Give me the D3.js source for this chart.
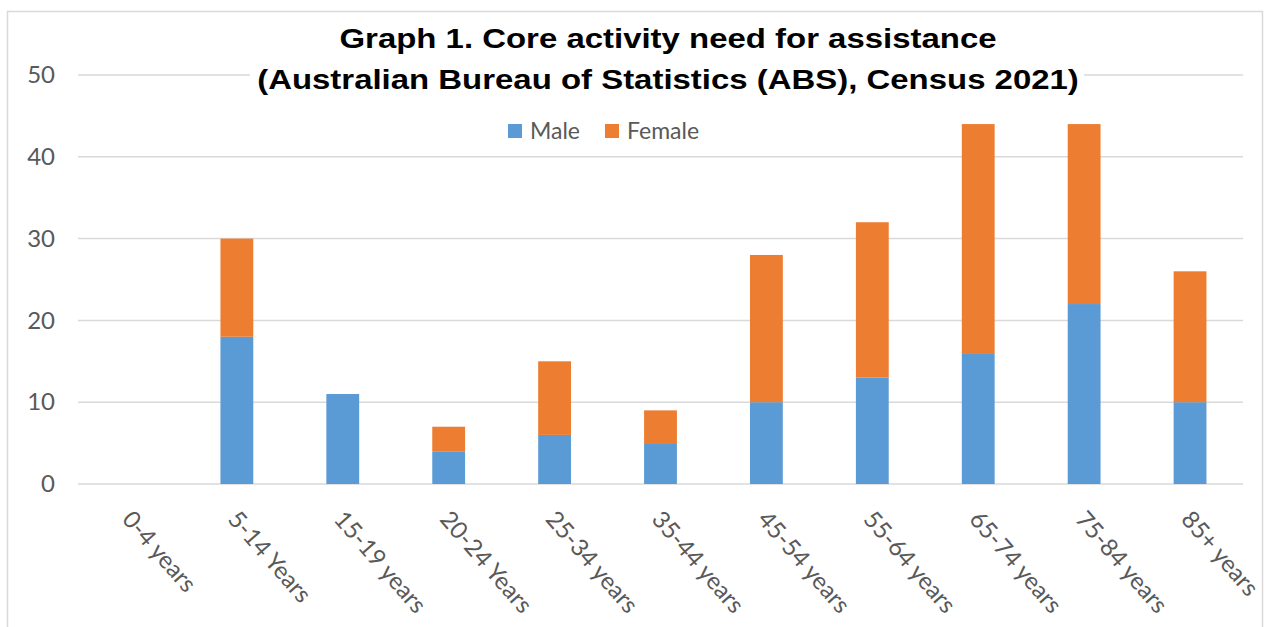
<!DOCTYPE html>
<html><head><meta charset="utf-8">
<script src="https://cdn.jsdelivr.net/npm/d3@7"></script>
<style>body{margin:0;background:#fff}svg{display:block}</style>
</head><body>
<svg id="c" width="1268" height="627"></svg>
<script>
const categories = ["0-4 years","5-14 Years","15-19 years","20-24 Years","25-34 years","35-44 years","45-54 years","55-64 years","65-74 years","75-84 years","85+ years"];
const male   = [0,18,11,4,6,5,10,13,16,22,10];
const female = [0,12,0,3,9,4,18,19,28,22,16];
const seriesNames = ["Male","Female"];
const colors = ["#5b9bd5","#ed7d31"];
const yTicks = [0,10,20,30,40,50];
const titleLines = ["Graph 1. Core activity need for assistance","(Australian Bureau of Statistics (ABS), Census 2021)"];

const svg = d3.select("#c");
const m={left:78,right:1243,top:75,bottom:484};

svg.append("rect").attr("x",7.5).attr("y",11.5).attr("width",1255).attr("height",640)
  .attr("fill","#fff").attr("stroke","#d9d9d9").attr("stroke-width",1.5);

const x = d3.scaleBand().domain(categories).range([m.left,m.right]).paddingInner(0.69).paddingOuter(0.345);
const y = d3.scaleLinear().domain([0,50]).range([m.bottom,m.top]);

const font="Lato, 'Open Sans', sans-serif";

// gridlines
svg.append("g").selectAll("line").data(yTicks).join("line")
  .attr("x1",m.left).attr("x2",m.right)
  .attr("y1",d=>y(d)).attr("y2",d=>y(d))
  .attr("stroke","#d9d9d9").attr("stroke-width",1.5);

// y axis labels
const yAxis = d3.axisLeft(y).tickValues(yTicks).tickSize(0).tickPadding(23);
const ya = svg.append("g").attr("transform",`translate(${m.left},0)`).call(yAxis);
ya.select(".domain").remove();
ya.selectAll("text").attr("font-family",font).attr("font-size",24).attr("fill","#595959");

// stacked bars
const data = categories.map((c,i)=>({cat:c,Male:male[i],Female:female[i]}));
const stack = d3.stack().keys(seriesNames)(data);
svg.append("g").selectAll("g").data(stack).join("g").attr("fill",(d,i)=>colors[i])
  .selectAll("rect").data(d=>d.filter(e=>e[1]-e[0]>0)).join("rect")
  .attr("x",d=>x(d.data.cat)).attr("width",x.bandwidth())
  .attr("y",d=>y(d[1])).attr("height",d=>y(d[0])-y(d[1]));

// x axis labels
const xAxis = d3.axisBottom(x).tickSize(0);
const xa = svg.append("g").attr("transform",`translate(0,${m.bottom})`).call(xAxis);
xa.select(".domain").remove();
xa.selectAll("text").attr("font-family",font).attr("font-size",24).attr("fill","#595959")
  .attr("text-anchor","start").attr("dy",0).attr("y",0)
  .attr("transform","translate(-10,36) rotate(49)");

// title background box (interrupts the top gridline like the reference)
svg.append("rect").attr("x",250).attr("y",18).attr("width",834).attr("height",84).attr("fill","#fff");

// title (horizontally stretched like the reference)
const t = svg.append("text").attr("text-anchor","middle").attr("font-family","'Liberation Sans', Arial, sans-serif")
  .attr("font-weight","bold").attr("font-size",27).attr("fill","#000")
  .attr("transform","translate(668,0) scale(1.22,1)");
titleLines.forEach((l,i)=>t.append("tspan").attr("x",0).attr("y",48+i*41).text(l));

// legend
const leg = svg.append("g").attr("font-family",font).attr("font-size",23).attr("fill","#595959");
const legX=[508,605];
seriesNames.forEach((s,i)=>{
  leg.append("rect").attr("x",legX[i]).attr("y",124).attr("width",14).attr("height",14).attr("fill",colors[i]);
  leg.append("text").attr("x",legX[i]+22).attr("y",139).text(s);
});
</script>
</body></html>
